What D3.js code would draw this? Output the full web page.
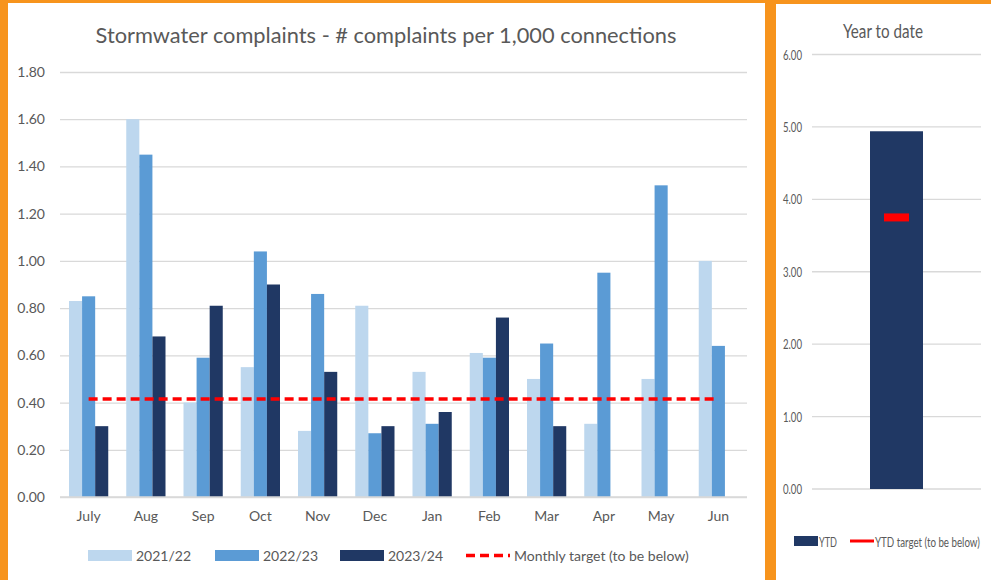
<!DOCTYPE html>
<html><head><meta charset="utf-8">
<script src="https://cdn.jsdelivr.net/npm/d3@7"></script>
<style>
html,body{margin:0;padding:0;background:#fff;}
svg{display:block;}
text{font-family:Lato,"Open Sans",sans-serif;fill:#595959;}
</style></head>
<body><svg id="c" width="991" height="580"></svg>
<script>
const months = ["July","Aug","Sep","Oct","Nov","Dec","Jan","Feb","Mar","Apr","May","Jun"];
const seriesNames = ["2021/22","2022/23","2023/24"];
const v2122 = [0.83,1.60,0.40,0.55,0.28,0.81,0.53,0.61,0.50,0.31,0.50,1.00];
const v2223 = [0.85,1.45,0.59,1.04,0.86,0.27,0.31,0.59,0.65,0.95,1.32,0.64];
const v2324 = [0.30,0.68,0.81,0.90,0.53,0.30,0.36,0.76,0.30,null,null,null];
const monthlyTarget = 0.415;
const yTicks = [0,0.2,0.4,0.6,0.8,1.0,1.2,1.4,1.6,1.8];
const ytdLabel = ["YTD"];
const ytdValue = [4.94];
const ytdTarget = 3.75;
const ytdTicks = [0,1,2,3,4,5,6];
const colors = ["#BDD7EE","#5B9BD5","#203864"];
const orange = "#F7941D";
const grid = "#D9D9D9";

const svg = d3.select("#c");
// orange frame
svg.append("rect").attr("x",0).attr("y",0).attr("width",991).attr("height",580).attr("fill","#fff");
svg.append("rect").attr("x",0).attr("y",0).attr("width",8).attr("height",580).attr("fill",orange);
svg.append("rect").attr("x",0).attr("y",0).attr("width",776).attr("height",3).attr("fill",orange);
svg.append("rect").attr("x",765).attr("y",0).attr("width",11).attr("height",580).attr("fill",orange);
svg.append("rect").attr("x",776).attr("y",0).attr("width",215).attr("height",4).attr("fill",orange);

// ---------- Left chart ----------
const L = svg.append("g");
const y = d3.scaleLinear().domain([0,1.8]).range([497,72]);
const x0 = d3.scaleBand().domain(months).range([60,747]).paddingInner(0.3144).paddingOuter(0.1572);
const x1 = d3.scaleBand().domain(seriesNames).range([0,x0.bandwidth()]);

L.append("text").attr("x",386).attr("y",43).attr("text-anchor","middle")
  .style("font-size","21.8px").text("Stormwater complaints - # complaints per 1,000 connections");

const yAxis = d3.axisLeft(y).tickValues(yTicks).tickFormat(d3.format(".2f")).tickSize(-687).tickPadding(15);
const ga = L.append("g").attr("transform","translate(60,0)").call(yAxis);
ga.select(".domain").remove();
ga.selectAll(".tick line").attr("stroke",grid).attr("stroke-width",1.3);
ga.selectAll(".tick text").style("font-size","14px").attr("fill","#595959").style("font-family","Lato,sans-serif");

const data = months.map((m,i)=>({m, vals:[v2122[i],v2223[i],v2324[i]]}));
const groups = L.append("g").selectAll("g").data(data).join("g")
  .attr("transform",d=>`translate(${x0(d.m)},0)`);
groups.selectAll("rect").data(d=>d.vals.map((v,k)=>({v,k})).filter(e=>e.v!==null)).join("rect")
  .attr("x",e=>x1(seriesNames[e.k])).attr("width",x1.bandwidth())
  .attr("y",e=>y(e.v)).attr("height",e=>y(0)-y(e.v)).attr("fill",e=>colors[e.k]);

// x labels
const xAxis = d3.axisBottom(x0).tickSize(0).tickPadding(14);
const gx = L.append("g").attr("transform","translate(0,497)").call(xAxis);
gx.select(".domain").attr("stroke",grid).attr("stroke-width",1.3).attr("d","M60,0H747");
gx.selectAll(".tick text").style("font-size","14px").attr("fill","#595959").style("font-family","Lato,sans-serif");

// target dashed line
const line = d3.line().x(d=>x0(d)+x0.bandwidth()/2).y(()=>y(monthlyTarget));
L.append("path").attr("d",line(months)).attr("fill","none").attr("stroke","#FF0000")
  .attr("stroke-width",3.5).attr("stroke-dasharray","9,5");

// legend
const leg = [{t:"2021/22",x:88,c:colors[0]},{t:"2022/23",x:215,c:colors[1]},{t:"2023/24",x:340,c:colors[2]}];
leg.forEach(l=>{
  L.append("rect").attr("x",l.x).attr("y",550).attr("width",44).attr("height",11).attr("fill",l.c);
  L.append("text").attr("x",l.x+48).attr("y",561).style("font-size","14px").text(l.t);
});
L.append("line").attr("x1",466).attr("x2",510).attr("y1",555.5).attr("y2",555.5)
  .attr("stroke","#FF0000").attr("stroke-width",3.5).attr("stroke-dasharray","9,5");
L.append("text").attr("x",514).attr("y",561).style("font-size","14px").text("Monthly target (to be below)");

// ---------- Right chart (narrow, horizontally compressed text) ----------
const R = svg.append("g");
function narrowText(parent, x, y, str, size, width, anchor){
  const g = parent.append("g");
  const t = g.append("text").style("font-size",size+"px").text(str);
  const w = t.node().getComputedTextLength();
  const sx = width / w;
  const dx = anchor==="end" ? x - width : x;
  g.attr("transform",`translate(${dx},${y}) scale(${sx},1)`);
  return g;
}
const yr = d3.scaleLinear().domain([0,6]).range([489,54.5]);
const xr = d3.scaleBand().domain(ytdLabel).range([812,981]).padding(0.5226);
narrowText(R, 843, 38, "Year to date", 20, 80);
const gr = R.append("g");
gr.selectAll("line").data(ytdTicks).join("line")
  .attr("x1",812).attr("x2",981).attr("y1",d=>yr(d)).attr("y2",d=>yr(d))
  .attr("stroke",grid).attr("stroke-width",1.3);
ytdTicks.forEach(d=>narrowText(gr, 802, yr(d)+5, d3.format(".2f")(d), 14, 19, "end"));
R.selectAll("rect.ytd").data(ytdLabel.map((l,i)=>({l,v:ytdValue[i]}))).join("rect").attr("class","ytd")
  .attr("x",d=>xr(d.l)).attr("width",xr.bandwidth()).attr("y",d=>yr(d.v)).attr("height",d=>yr(0)-yr(d.v))
  .attr("fill","#203864");
R.append("rect").attr("x",xr("YTD")+xr.bandwidth()/2-12.5).attr("width",25)
  .attr("y",yr(ytdTarget)-4).attr("height",8).attr("fill","#FF0000");
// legend
R.append("rect").attr("x",794).attr("y",536).attr("width",24).attr("height",10).attr("fill","#203864");
narrowText(R, 819, 547, "YTD", 14, 18);
R.append("line").attr("x1",850).attr("x2",874).attr("y1",541).attr("y2",541).attr("stroke","#FF0000").attr("stroke-width",3);
narrowText(R, 875, 547, "YTD target (to be below)", 14, 105);
</script></body></html>
